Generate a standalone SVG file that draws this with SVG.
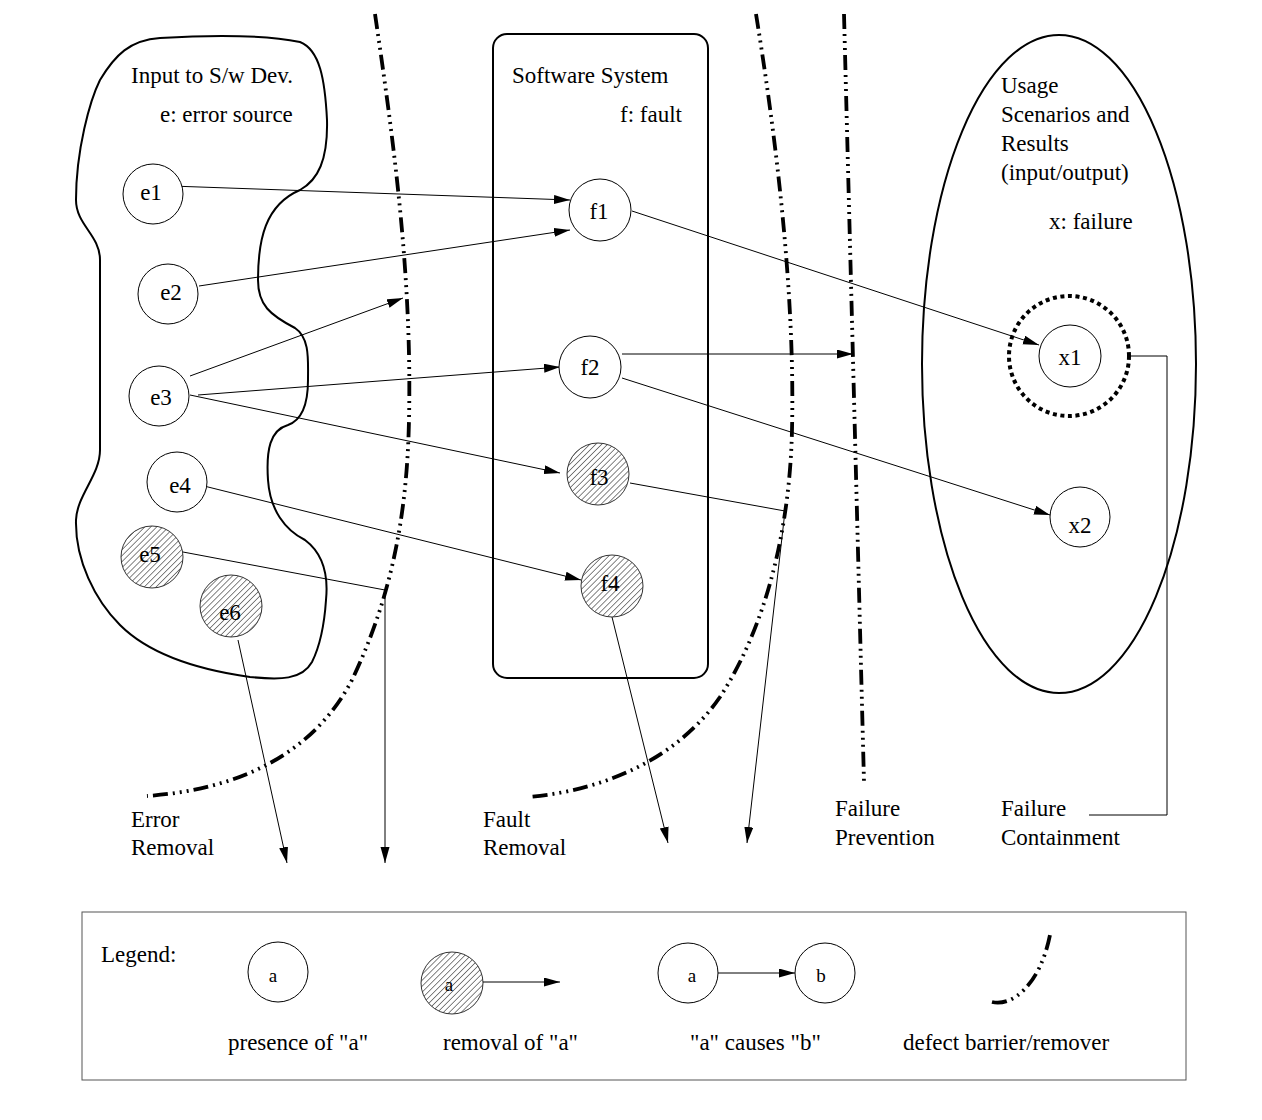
<svg xmlns="http://www.w3.org/2000/svg" width="1262" height="1120" viewBox="0 0 1262 1120">
<style>
text{font-family:"Liberation Serif","Times New Roman",serif;font-size:23px;fill:#000}
.lbl{text-anchor:middle}
.small{font-size:19px}
.node{fill:#fff;stroke:#000;stroke-width:1}
.hatch{fill:url(#hatch);stroke:#333;stroke-width:1}
.outline{fill:none;stroke:#000;stroke-width:2}
.conn{fill:none;stroke:#000;stroke-width:1}
.barrier{fill:none;stroke:#000;stroke-width:3.8;stroke-dasharray:15 5 2 5 2 5 2 5}
</style>
<defs>
<pattern id="hatch" patternUnits="userSpaceOnUse" width="4.2" height="4.2" patternTransform="rotate(45)">
<rect width="4.2" height="4.2" fill="#fff"/>
<line x1="0" y1="0" x2="0" y2="4.2" stroke="#666" stroke-width="1.6"/>
</pattern>
<marker id="arr" markerUnits="userSpaceOnUse" markerWidth="17" markerHeight="10" refX="16" refY="4.5" orient="auto">
<path d="M0,0 L16,4.5 L0,9 Z" fill="#000"/>
</marker>
</defs>
<rect width="1262" height="1120" fill="#fff"/>

<g id="input-region">
<path class="outline" d="M100,80 C115,55 130,40 160,38 C210,35 260,34 300,42 C320,50 325,80 327,120 C328,160 318,180 300,190 C265,205 258,240 258,280 C258,305 270,315 295,328 C310,338 308,360 308,380 C308,405 302,420 288,425 C270,430 266,450 268,480 C270,510 285,530 305,540 C325,555 328,580 326,600 C324,630 318,650 312,662 C302,680 280,680 250,677 C200,670 150,655 120,625 C95,600 75,560 76,520 C77,495 100,475 100,450 L100,260 C100,235 76,225 76,200 C76,150 90,100 100,80 Z"/>
<text x="131" y="83">Input to S/w Dev.</text>
<text x="160" y="122">e: error source</text>
</g>

<g id="software-system">
<rect class="outline" x="493" y="34" width="215" height="644" rx="14" ry="14"/>
<text x="512" y="83">Software System</text>
<text x="620" y="122">f: fault</text>
</g>

<g id="usage-region">
<ellipse class="outline" cx="1059" cy="364" rx="137" ry="329"/>
<text x="1001" y="93">Usage</text>
<text x="1001" y="122">Scenarios and</text>
<text x="1001" y="151">Results</text>
<text x="1001" y="180">(input/output)</text>
<text x="1049" y="229">x: failure</text>
</g>

<g id="barriers">
<path id="error-removal" class="barrier" d="M375,14 C395,150 412,280 409,420 C407,520 390,600 352,680 C310,760 230,790 147,796"/>
<path id="fault-removal" class="barrier" d="M756,14 C778,150 795,300 792,430 C790,520 770,620 720,697 C680,755 610,790 528,797"/>
<path id="failure-prevention" class="barrier" d="M844,14 L864,782"/>
</g>

<g id="connectors">
<line class="conn" x1="171" y1="186" x2="570" y2="200" marker-end="url(#arr)"/>
<line class="conn" x1="199" y1="286" x2="570" y2="230" marker-end="url(#arr)"/>
<line class="conn" x1="190" y1="376" x2="403" y2="298" marker-end="url(#arr)"/>
<line class="conn" x1="198" y1="395" x2="560" y2="367" marker-end="url(#arr)"/>
<line class="conn" x1="190" y1="395" x2="560" y2="473" marker-end="url(#arr)"/>
<line class="conn" x1="200" y1="485" x2="581" y2="580" marker-end="url(#arr)"/>
<polyline class="conn" points="183,552 385,590 385,863" marker-end="url(#arr)"/>
<line class="conn" x1="238" y1="640" x2="287" y2="863" marker-end="url(#arr)"/>
<line class="conn" x1="632" y1="211" x2="1039" y2="345" marker-end="url(#arr)"/>
<line class="conn" x1="622" y1="354" x2="853" y2="354" marker-end="url(#arr)"/>
<line class="conn" x1="622" y1="378" x2="1050" y2="515" marker-end="url(#arr)"/>
<polyline class="conn" points="630,483 785,511 747,843" marker-end="url(#arr)"/>
<line class="conn" x1="612" y1="617" x2="668" y2="843" marker-end="url(#arr)"/>
<polyline class="conn" points="1130,356 1167,356 1167,815 1089,815" stroke="#444"/>
</g>

<g id="e1"><circle class="node" cx="153" cy="194" r="30"/><text class="lbl" x="151" y="200">e1</text></g>
<g id="e2"><circle class="node" cx="168" cy="294" r="30"/><text class="lbl" x="171" y="300">e2</text></g>
<g id="e3"><circle class="node" cx="159" cy="396" r="30"/><text class="lbl" x="161" y="405">e3</text></g>
<g id="e4"><circle class="node" cx="177" cy="482" r="30"/><text class="lbl" x="180" y="493">e4</text></g>
<g id="e5"><circle class="hatch" cx="152" cy="557" r="31"/><text class="lbl" x="150" y="562">e5</text></g>
<g id="e6"><circle class="hatch" cx="231" cy="606" r="31"/><text class="lbl" x="230" y="620">e6</text></g>

<g id="f1"><circle class="node" cx="600" cy="210" r="31"/><text class="lbl" x="599" y="219">f1</text></g>
<g id="f2"><circle class="node" cx="590" cy="367" r="31"/><text class="lbl" x="590" y="375">f2</text></g>
<g id="f3"><circle class="hatch" cx="598" cy="474" r="31"/><text class="lbl" x="599" y="485">f3</text></g>
<g id="f4"><circle class="hatch" cx="612" cy="586" r="31"/><text class="lbl" x="610" y="591">f4</text></g>

<g id="x1">
<circle cx="1069" cy="356" r="60" fill="none" stroke="#000" stroke-width="4" stroke-dasharray="4 3.6"/>
<circle class="node" cx="1070" cy="356" r="31"/><text class="lbl" x="1070" y="365">x1</text>
</g>
<g id="x2"><circle class="node" cx="1080" cy="517" r="30"/><text class="lbl" x="1080" y="533">x2</text></g>

<g id="barrier-labels">
<text x="131" y="827">Error</text>
<text x="131" y="855">Removal</text>
<text x="483" y="827">Fault</text>
<text x="483" y="855">Removal</text>
<text x="835" y="816">Failure</text>
<text x="835" y="845">Prevention</text>
<text x="1001" y="816">Failure</text>
<text x="1001" y="845">Containment</text>
</g>

<g id="legend">
<rect x="82" y="912" width="1104" height="168" fill="none" stroke="#555" stroke-width="1"/>
<text x="101" y="962">Legend:</text>
<circle class="node" cx="278" cy="972" r="30"/><text class="lbl small" x="273" y="982">a</text>
<circle class="hatch" cx="452" cy="983" r="31"/><text class="lbl small" x="449" y="991">a</text>
<line class="conn" x1="483" y1="982" x2="560" y2="982" marker-end="url(#arr)"/>
<circle class="node" cx="688" cy="973" r="30"/><text class="lbl small" x="692" y="982">a</text>
<circle class="node" cx="825" cy="973" r="30"/><text class="lbl small" x="821" y="982">b</text>
<line class="conn" x1="718" y1="973" x2="795" y2="973" marker-end="url(#arr)"/>
<path class="barrier" d="M992,1002 C1012,1007 1040,985 1050,935"/>
<text x="228" y="1050">presence of "a"</text>
<text x="443" y="1050">removal of "a"</text>
<text x="690" y="1050">"a" causes "b"</text>
<text x="903" y="1050">defect barrier/remover</text>
</g>
</svg>
